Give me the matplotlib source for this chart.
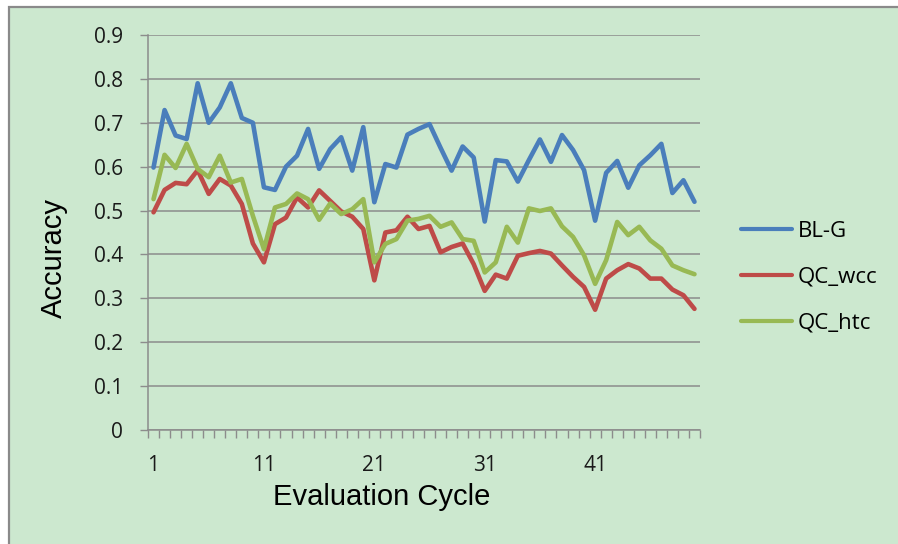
import numpy as np
import matplotlib
matplotlib.use("Agg")
import matplotlib.pyplot as plt
from matplotlib.patches import Rectangle
from matplotlib.ticker import MultipleLocator, FixedLocator

# accuracy per evaluation cycle
cycles = list(range(1, 51))
bl_g = [0.598, 0.729, 0.671, 0.663, 0.790, 0.700, 0.735, 0.790, 0.711, 0.700,
        0.553, 0.547, 0.600, 0.625, 0.686, 0.595, 0.640, 0.667, 0.591, 0.690,
        0.519, 0.606, 0.598, 0.673, 0.686, 0.697, 0.643, 0.591, 0.646, 0.621,
        0.475, 0.615, 0.612, 0.566, 0.615, 0.662, 0.611, 0.672, 0.638, 0.592,
        0.477, 0.586, 0.613, 0.552, 0.603, 0.626, 0.652, 0.540, 0.569, 0.520]
qc_wcc = [0.496, 0.547, 0.563, 0.560, 0.592, 0.538, 0.572, 0.557, 0.515, 0.425,
          0.382, 0.469, 0.484, 0.530, 0.507, 0.546, 0.522, 0.498, 0.486, 0.458,
          0.341, 0.450, 0.455, 0.486, 0.458, 0.465, 0.405, 0.417, 0.425, 0.378,
          0.317, 0.354, 0.345, 0.397, 0.403, 0.408, 0.402, 0.375, 0.349, 0.326,
          0.274, 0.345, 0.364, 0.378, 0.368, 0.345, 0.345, 0.320, 0.307, 0.276]
qc_htc = [0.526, 0.627, 0.597, 0.652, 0.595, 0.576, 0.625, 0.564, 0.572, 0.488,
          0.412, 0.507, 0.515, 0.539, 0.526, 0.479, 0.516, 0.492, 0.503, 0.526,
          0.382, 0.424, 0.435, 0.477, 0.481, 0.488, 0.463, 0.473, 0.435, 0.431,
          0.359, 0.382, 0.463, 0.427, 0.505, 0.499, 0.505, 0.464, 0.440, 0.398,
          0.333, 0.387, 0.474, 0.444, 0.463, 0.432, 0.413, 0.375, 0.364, 0.355]
series_names = ["BL-G", "QC_wcc", "QC_htc"]
x_ticklabels = [1, 11, 21, 31, 41]

BG = "#CCE8CF"
GRID = "#8C8C8C"
colors = ["#4A7EBB", "#BE4B48", "#98B954"]
tick_font = ["Open Sans", "DejaVu Sans"]
label_font = ["Liberation Sans", "DejaVu Sans"]

W, H = 898, 544
fig = plt.figure(figsize=(W / 100, H / 100), dpi=100, facecolor="white")

# green chart area with a grey border (left/top visible in the reference)
fig.patches.append(Rectangle((9 / W, -0.01), 1.0, 1 - 7 / H + 0.01,
                             transform=fig.transFigure, facecolor=BG,
                             edgecolor="#8A8A8A", linewidth=1.6, zorder=-10))

ax = fig.add_axes([148 / W, 1 - 430 / H, (700 - 148) / W, (430 - 35) / H])
ax.set_facecolor(BG)
ax.set_zorder(1)

for ys, c, name in zip([bl_g, qc_wcc, qc_htc], colors, series_names):
    ax.plot(cycles, ys, color=c, lw=3.3, label=name,
            solid_joinstyle="round", solid_capstyle="round", zorder=3)

ax.set_xlim(0.5, 50.5)
ax.set_ylim(0, 0.9)
ax.yaxis.set_major_locator(MultipleLocator(0.1))
ax.set_yticklabels([f"{v:.1f}" if v > 0 else "0" for v in ax.get_yticks()])
ax.grid(axis="y", color=GRID, lw=1.1)
ax.set_axisbelow(True)

ax.xaxis.set_major_locator(FixedLocator(x_ticklabels))
ax.xaxis.set_minor_locator(FixedLocator(np.arange(0.5, 51, 1)))
ax.tick_params(axis="x", which="major", length=0, pad=18)
ax.tick_params(axis="x", which="minor", length=6, width=1, color=GRID)
ax.tick_params(axis="y", length=6, width=1, color=GRID, pad=12)
for lab in ax.get_xticklabels() + ax.get_yticklabels():
    lab.set_family(tick_font)
    lab.set_fontsize(15)
    lab.set_color("#1A1A1A")

for s in ["top", "right"]:
    ax.spines[s].set_visible(False)
for s in ["left", "bottom"]:
    ax.spines[s].set_color(GRID)
    ax.spines[s].set_linewidth(1.1)

ax.set_xlabel("Evaluation Cycle", family=label_font, fontsize=21)
ax.xaxis.set_label_coords((382 - 148) / (700 - 148), -(497 - 430) / 395)
ax.xaxis.label.set_va("center")
ax.set_ylabel("Accuracy", family=label_font, fontsize=21)
ax.yaxis.set_label_coords(-(148 - 54) / (700 - 148), (430 - 258) / 395)
ax.yaxis.label.set_va("center")

leg = fig.legend(loc="center left", bbox_to_anchor=(741 / W, 1 - 277 / H),
                 frameon=False, prop={"family": tick_font, "size": 16},
                 handlelength=2.3, handletextpad=0.25, labelspacing=1.12,
                 borderpad=0, borderaxespad=0)
for line in leg.get_lines():
    line.set_linewidth(3.0)

fig.savefig("out.png", dpi=100, facecolor="white")
